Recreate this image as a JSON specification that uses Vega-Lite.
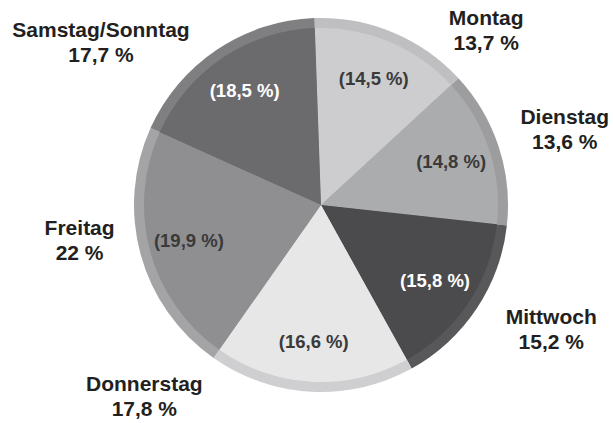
{
  "$schema": "https://vega.github.io/schema/vega-lite/v6.json",
  "width": 584,
  "height": 410,
  "autosize": {"type": "none"},
  "padding": {"left": 29, "top": 0, "right": 0, "bottom": 13},
  "background": "white",
  "config": {"view": {"stroke": null}},
  "data": {
    "values": [
      {"nr": 1, "tag": "Montag", "anteil": 13.7, "aussen": "Montag\n13,7 %", "innen": "(14,5 %)"},
      {"nr": 2, "tag": "Dienstag", "anteil": 13.6, "aussen": "Dienstag\n13,6 %", "innen": "(14,8 %)"},
      {"nr": 3, "tag": "Mittwoch", "anteil": 15.2, "aussen": "Mittwoch\n15,2 %", "innen": "(15,8 %)"},
      {"nr": 4, "tag": "Donnerstag", "anteil": 17.8, "aussen": "Donnerstag\n17,8 %", "innen": "(16,6 %)"},
      {"nr": 5, "tag": "Freitag", "anteil": 22.0, "aussen": "Freitag\n22 %", "innen": "(19,9 %)"},
      {"nr": 6, "tag": "Samstag/Sonntag", "anteil": 17.7, "aussen": "Samstag/Sonntag\n17,7 %", "innen": "(18,5 %)"}
    ]
  },
  "transform": [
    {"stack": "anteil", "groupby": [], "sort": [{"field": "nr", "order": "ascending"}], "as": ["s0", "s1"]}
  ],
  "layer": [
    {
      "mark": {"type": "arc", "outerRadius": 187},
      "encoding": {
        "theta": {"field": "s0", "type": "quantitative", "stack": null, "scale": {"domain": [0, 100], "range": [-0.035, 6.2482]}},
        "theta2": {"field": "s1"},
        "color": {
          "field": "tag", "type": "nominal", "legend": null,
          "scale": {
            "domain": ["Montag", "Dienstag", "Mittwoch", "Donnerstag", "Freitag", "Samstag/Sonntag"],
            "range": ["#bfbfc1", "#9d9d9f", "#58585a", "#cfcfd1", "#a4a4a6", "#7f7f81"]
          }
        }
      }
    },
    {
      "mark": {"type": "arc", "outerRadius": 177},
      "encoding": {
        "theta": {"field": "s0", "type": "quantitative", "stack": null, "scale": {"domain": [0, 100], "range": [-0.035, 6.2482]}},
        "theta2": {"field": "s1"},
        "color": {
          "field": "tag", "type": "nominal", "legend": null,
          "scale": {
            "domain": ["Montag", "Dienstag", "Mittwoch", "Donnerstag", "Freitag", "Samstag/Sonntag"],
            "range": ["#cdcdcf", "#abacae", "#4b4b4d", "#e7e7e8", "#8f8f91", "#6b6b6e"]
          }
        }
      }
    },
    {
      "mark": {"type": "text", "radius": 137, "font": "Liberation Sans", "fontWeight": "bold", "fontSize": 18.5},
      "encoding": {
        "theta": {"field": "anteil", "type": "quantitative", "stack": true, "scale": {"domain": [0, 100], "range": [-0.035, 6.2482]}},
        "order": {"field": "nr", "type": "quantitative"},
        "text": {"field": "innen", "type": "nominal"},
        "color": {
          "condition": {"test": "datum.tag === 'Mittwoch' || datum.tag === 'Samstag/Sonntag'", "value": "#ffffff"},
          "value": "#3a3a3a"
        }
      }
    },
    {
      "transform": [{"filter": "datum.tag === 'Montag'"}],
      "mark": {"type": "text", "radius": 240, "thetaOffset": 0.794, "dy": -12, "font": "Liberation Sans", "fontWeight": "bold", "fontSize": 21, "lineHeight": 25, "lineBreak": "\n", "color": "#231f20"},
      "encoding": {
        "theta": {"field": "s0", "type": "quantitative", "stack": null, "scale": {"domain": [0, 100], "range": [-0.035, 6.2482]}},
        "text": {"field": "aussen", "type": "nominal"}
      }
    },
    {
      "transform": [{"filter": "datum.tag === 'Dienstag'"}],
      "mark": {"type": "text", "radius": 255, "thetaOffset": 0.4465, "dy": -12, "font": "Liberation Sans", "fontWeight": "bold", "fontSize": 21, "lineHeight": 25, "lineBreak": "\n", "color": "#231f20"},
      "encoding": {
        "theta": {"field": "s0", "type": "quantitative", "stack": null, "scale": {"domain": [0, 100], "range": [-0.035, 6.2482]}},
        "text": {"field": "aussen", "type": "nominal"}
      }
    },
    {
      "transform": [{"filter": "datum.tag === 'Mittwoch'"}],
      "mark": {"type": "text", "radius": 262, "thetaOffset": 0.388, "dy": -12, "font": "Liberation Sans", "fontWeight": "bold", "fontSize": 21, "lineHeight": 25, "lineBreak": "\n", "color": "#231f20"},
      "encoding": {
        "theta": {"field": "s0", "type": "quantitative", "stack": null, "scale": {"domain": [0, 100], "range": [-0.035, 6.2482]}},
        "text": {"field": "aussen", "type": "nominal"}
      }
    },
    {
      "transform": [{"filter": "datum.tag === 'Donnerstag'"}],
      "mark": {"type": "text", "radius": 261, "thetaOffset": 1.2497, "dy": -12, "font": "Liberation Sans", "fontWeight": "bold", "fontSize": 21, "lineHeight": 25, "lineBreak": "\n", "color": "#231f20"},
      "encoding": {
        "theta": {"field": "s0", "type": "quantitative", "stack": null, "scale": {"domain": [0, 100], "range": [-0.035, 6.2482]}},
        "text": {"field": "aussen", "type": "nominal"}
      }
    },
    {
      "transform": [{"filter": "datum.tag === 'Freitag'"}],
      "mark": {"type": "text", "radius": 244, "thetaOffset": 0.812, "dy": -12, "font": "Liberation Sans", "fontWeight": "bold", "fontSize": 21, "lineHeight": 25, "lineBreak": "\n", "color": "#231f20"},
      "encoding": {
        "theta": {"field": "s0", "type": "quantitative", "stack": null, "scale": {"domain": [0, 100], "range": [-0.035, 6.2482]}},
        "text": {"field": "aussen", "type": "nominal"}
      }
    },
    {
      "transform": [{"filter": "datum.tag === 'Samstag/Sonntag'"}],
      "mark": {"type": "text", "radius": 273, "thetaOffset": 0.2098, "dy": -12, "font": "Liberation Sans", "fontWeight": "bold", "fontSize": 21, "lineHeight": 25, "lineBreak": "\n", "color": "#231f20"},
      "encoding": {
        "theta": {"field": "s0", "type": "quantitative", "stack": null, "scale": {"domain": [0, 100], "range": [-0.035, 6.2482]}},
        "text": {"field": "aussen", "type": "nominal"}
      }
    }
  ],
  "resolve": {"scale": {"color": "independent"}}
}
